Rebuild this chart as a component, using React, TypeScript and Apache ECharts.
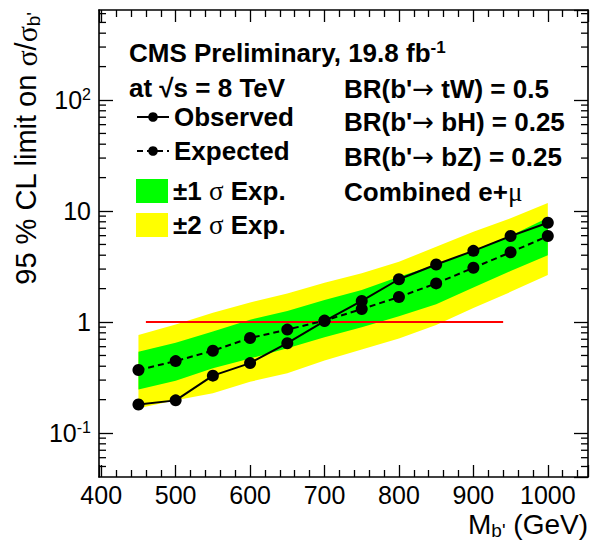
import React, { useEffect, useRef } from 'react';
import * as echarts from 'echarts';

// ---- data ----
const masses = [450, 500, 550, 600, 650, 700, 750, 800, 850, 900, 950, 1000];
const observed = [0.181, 0.197, 0.329, 0.427, 0.645, 1.02, 1.55, 2.43, 3.3, 4.38, 5.95, 7.85];
const expected = [0.37, 0.445, 0.552, 0.718, 0.855, 1.03, 1.31, 1.68, 2.23, 3.08, 4.25, 5.95];
const sigma1Lower = [0.247, 0.296, 0.383, 0.47, 0.58, 0.73, 0.9, 1.13, 1.45, 2.05, 2.88, 4.0];
const sigma1Upper = [0.54, 0.65, 0.82, 1.05, 1.26, 1.58, 1.94, 2.56, 3.28, 4.4, 6.0, 8.7];
const sigma2Lower = [0.167, 0.198, 0.228, 0.29, 0.345, 0.45, 0.567, 0.71, 0.94, 1.34, 1.87, 2.65];
const sigma2Upper = [0.764, 0.95, 1.21, 1.5, 1.81, 2.26, 2.75, 3.49, 4.77, 6.5, 8.6, 11.8];
const unityLineMass = [460, 940];
const unityLineValue = 1;

const seriesNames = ['Observed', 'Expected', '±1 σ Exp.', '±2 σ Exp.'];

const X_MIN = 397;
const X_MAX = 1054;
const Y_MIN = 0.0402;
const Y_MAX = 647;

const SANS = '"Liberation Sans", Arial, Helvetica, sans-serif';
const SERIF = '"Liberation Serif", "DejaVu Serif", serif';
const ARROW = '"DejaVu Sans", sans-serif';

const yMinorTicks: number[] = [];
for (let e = -2; e <= 2; e++) {
  for (let m = 2; m <= 9; m++) {
    const v = m * Math.pow(10, e);
    if (v > Y_MIN && v < Y_MAX) yMinorTicks.push(v);
  }
}

function bandSeries(name: string, lower: number[], upper: number[], color: string, z: number) {
  return {
    type: 'custom',
    name,
    coordinateSystem: 'cartesian2d',
    silent: true,
    z,
    itemStyle: { color },
    data: masses.map((m, i) => [m, lower[i], upper[i]]),
    encode: { x: 0, y: [1, 2] },
    renderItem: (params: any, api: any) => {
      if (params.dataIndex !== 0) return null;
      const pts: number[][] = [];
      for (let i = 0; i < masses.length; i++) pts.push(api.coord([masses[i], upper[i]]));
      for (let i = masses.length - 1; i >= 0; i--) pts.push(api.coord([masses[i], lower[i]]));
      return { type: 'polygon', shape: { points: pts }, style: { fill: color, stroke: null } };
    },
  };
}

const bold = { fontFamily: SANS, fontSize: 26, fontWeight: 'bold', color: '#000', lineHeight: 28 };
const symb = { fontFamily: ARROW, fontSize: 26, fontWeight: 'normal', color: '#000', lineHeight: 28 };
const greek = { fontFamily: SERIF, fontSize: 27, fontWeight: 'normal', color: '#000', lineHeight: 28 };
const sup = { fontFamily: SANS, fontSize: 17, fontWeight: 'bold', color: '#000', verticalAlign: 'top', lineHeight: 17 };

export default function App() {
  const ref = useRef<HTMLDivElement>(null);
  useEffect(() => {
    if (!ref.current) return;
    const chart = echarts.init(ref.current, undefined, { renderer: 'svg' });
    const axisLine = { show: true, lineStyle: { color: '#000', width: 1.6 } };
    const tickStyle = { color: '#000', width: 1.3 };
    const option: any = {
      animation: false,
      backgroundColor: '#fff',
      grid: { left: 99, right: 4, top: 10, bottom: 67, containLabel: false },
      xAxis: [
        {
          type: 'value', min: X_MIN, max: X_MAX, position: 'bottom',
          axisLine, splitLine: { show: false },
          axisTick: { show: true, inside: true, length: 12, lineStyle: tickStyle },
          minorTick: { show: true, splitNumber: 5, length: 7, lineStyle: tickStyle },
          axisLabel: {
            show: true, margin: 5, fontFamily: SANS, fontSize: 25, color: '#000',
            showMinLabel: false, showMaxLabel: false,
            formatter: (v: number) => String(v),
          },
        },
        {
          type: 'value', min: X_MIN, max: X_MAX, position: 'top',
          axisLine, splitLine: { show: false },
          axisTick: { show: true, inside: true, length: 12, lineStyle: tickStyle },
          minorTick: { show: true, splitNumber: 5, length: 7, lineStyle: tickStyle },
          axisLabel: { show: false },
        },
      ],
      yAxis: [
        {
          type: 'log', logBase: 10, min: Y_MIN, max: Y_MAX, position: 'left',
          axisLine, splitLine: { show: false },
          axisTick: { show: true, inside: true, length: 14, lineStyle: tickStyle },
          axisLabel: {
            show: true, margin: 8, showMinLabel: false, showMaxLabel: false,
            fontFamily: SANS, fontSize: 25, color: '#000',
            formatter: (v: number) => {
              const l = Math.log10(v);
              const e = Math.round(l);
              if (Math.abs(l - e) > 1e-6) return '';
              if (e === 0) return '{n|1}';
              if (e === 1) return '{n|10}';
              return `{n|10}{s|${e}}`;
            },
            rich: {
              n: { fontFamily: SANS, fontSize: 25, color: '#000', lineHeight: 28 },
              s: { fontFamily: SANS, fontSize: 16, color: '#000', verticalAlign: 'top', lineHeight: 16 },
            },
          },
        },
        {
          type: 'log', logBase: 10, min: Y_MIN, max: Y_MAX, position: 'right',
          axisLine, splitLine: { show: false },
          axisTick: { show: true, inside: true, length: 14, lineStyle: tickStyle },
          axisLabel: { show: false },
        },
      ],
      legend: [
        {
          data: ['Observed', 'Expected'],
          orient: 'vertical', left: 131, top: 98,
          itemWidth: 32, itemHeight: 12, itemGap: 6,
          selectedMode: false,
          textStyle: { ...bold },
        },
        {
          data: ['±1 σ Exp.', '±2 σ Exp.'],
          orient: 'vertical', left: 131, top: 172,
          itemWidth: 32, itemHeight: 24, itemGap: 6,
          icon: 'rect', selectedMode: false,
          formatter: (name: string) => {
            const p = name.split('σ');
            return `{a|${p[0]}}{g|σ}{a|${p[1]}}`;
          },
          textStyle: { ...bold, rich: { a: bold, g: greek } },
        },
      ],
      graphic: [
        {
          type: 'text', x: 129, y: 53,
          style: {
            text: '{b|CMS Preliminary, 19.8 fb}{s|-1}', verticalAlign: 'middle', align: 'left',
            rich: { b: bold, s: sup },
          },
        },
        {
          type: 'text', x: 129, y: 88,
          style: { text: '{b|at √s = 8 TeV}', verticalAlign: 'middle', align: 'left', rich: { b: bold } },
        },
        {
          type: 'text', x: 344, y: 89,
          style: { text: "{b|BR(b'}{a|→}{b| tW) = 0.5}", verticalAlign: 'middle', align: 'left', rich: { b: bold, a: symb } },
        },
        {
          type: 'text', x: 344, y: 122,
          style: { text: "{b|BR(b'}{a|→}{b| bH) = 0.25}", verticalAlign: 'middle', align: 'left', rich: { b: bold, a: symb } },
        },
        {
          type: 'text', x: 344, y: 157,
          style: { text: "{b|BR(b'}{a|→}{b| bZ) = 0.25}", verticalAlign: 'middle', align: 'left', rich: { b: bold, a: symb } },
        },
        {
          type: 'text', x: 344, y: 192,
          style: { text: '{b|Combined e+}{g|μ}', verticalAlign: 'middle', align: 'left', rich: { b: bold, g: greek } },
        },
        {
          type: 'text', x: 588, y: 524,
          style: {
            text: "{t|M}{u|b'}{t| (GeV)}", align: 'right', verticalAlign: 'middle',
            rich: {
              t: { fontFamily: SANS, fontSize: 28, color: '#000', lineHeight: 32 },
              u: { fontFamily: SANS, fontSize: 19, color: '#000', verticalAlign: 'bottom', lineHeight: 19 },
            },
          },
        },
        {
          type: 'text', x: 26, y: 12, rotation: Math.PI / 2,
          style: {
            text: "{t|95 % CL limit on }{g|σ}{t|/}{g|σ}{u|b'}", align: 'right', verticalAlign: 'middle',
            rich: {
              t: { fontFamily: SANS, fontSize: 29, color: '#000', lineHeight: 34 },
              g: { fontFamily: SERIF, fontSize: 30, color: '#000', lineHeight: 34 },
              u: { fontFamily: SANS, fontSize: 19, color: '#000', verticalAlign: 'bottom', lineHeight: 19 },
            },
          },
        },
      ],
      series: [
        bandSeries(seriesNames[3], sigma2Lower, sigma2Upper, '#ffff00', 1),
        bandSeries(seriesNames[2], sigma1Lower, sigma1Upper, '#00ff00', 2),
        {
          type: 'line', name: 'Theory', silent: true, z: 3,
          data: unityLineMass.map((m) => [m, unityLineValue]),
          showSymbol: false, symbol: 'none',
          lineStyle: { color: '#ff0000', width: 2 },
        },
        {
          type: 'line', name: seriesNames[1], z: 4,
          data: masses.map((m, i) => [m, expected[i]]),
          symbol: 'circle', symbolSize: 12,
          itemStyle: { color: '#000' },
          lineStyle: { color: '#000', width: 2, type: [6, 4] },
        },
        {
          type: 'line', name: seriesNames[0], z: 5,
          data: masses.map((m, i) => [m, observed[i]]),
          symbol: 'circle', symbolSize: 12,
          itemStyle: { color: '#000' },
          lineStyle: { color: '#000', width: 2 },
        },
        {
          type: 'custom', name: 'minorY', silent: true, z: 6,
          coordinateSystem: 'cartesian2d',
          data: yMinorTicks.map((v) => [X_MIN, v]),
          clip: false,
          renderItem: (params: any, api: any) => {
            const v = api.value(1);
            const a = api.coord([X_MIN, v]);
            const b = api.coord([X_MAX, v]);
            const st = { stroke: '#000', lineWidth: 1.3 };
            return {
              type: 'group',
              children: [
                { type: 'line', shape: { x1: a[0], y1: a[1], x2: a[0] + 7, y2: a[1] }, style: st },
                { type: 'line', shape: { x1: b[0] - 7, y1: b[1], x2: b[0], y2: b[1] }, style: st },
              ],
            };
          },
        },
      ],
    };
    chart.setOption(option);
    return () => chart.dispose();
  }, []);
  return (
    <div
      ref={ref}
      style={{ position: 'fixed', left: 0, top: 0, width: 592, height: 544, background: '#fff' }}
    />
  );
}
